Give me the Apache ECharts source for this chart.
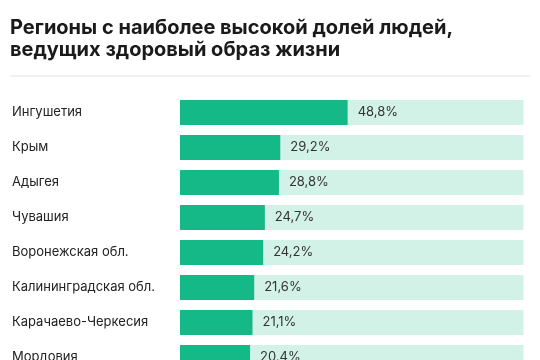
<!DOCTYPE html>
<html><head><meta charset="utf-8">
<script src="https://cdn.jsdelivr.net/npm/echarts@6/dist/echarts.min.js"></script>
<style>html,body{margin:0;padding:0;background:#fff}#c{width:540px;height:360px}</style>
</head><body><div id="c"></div>
<script>
const categories = ["Ингушетия","Крым","Адыгея","Чувашия","Воронежская обл.","Калининградская обл.","Карачаево-Черкесия","Мордовия"];
const values = [48.8,29.2,28.8,24.7,24.2,21.6,21.1,20.4];
const titleText = "Регионы с наиболее высокой долей людей,\nведущих здоровый образ жизни";
const FONT = "Inter";
const chart = echarts.init(document.getElementById('c'), null, {renderer:'canvas'});
chart.setOption({
  animation:false,
  backgroundColor:'#fff',
  title:{text:titleText,left:5,top:12,textStyle:{fontFamily:FONT,fontSize:20,fontWeight:'bold',color:'#1a1a1a',lineHeight:22}},
  graphic:[{type:'line',shape:{x1:10,y1:76,x2:530,y2:76},style:{stroke:'#e3e3e3',lineWidth:1}}],
  grid:{left:180,width:343.5,top:95,height:280,containLabel:false,outerBoundsMode:'none'},
  xAxis:{type:'value',min:0,max:100,show:false},
  yAxis:{type:'category',data:categories,inverse:true,axisLine:{show:false},axisTick:{show:false},
    axisLabel:{align:'left',margin:168,fontFamily:FONT,fontSize:13,color:'#222'}},
  series:[{type:'bar',data:values,barWidth:25,showBackground:true,
    backgroundStyle:{color:'#d3f2e7'},itemStyle:{color:'#14b987'},
    label:{show:true,position:'right',distance:10,fontFamily:FONT,fontSize:13,color:'#333',
      formatter:p=>p.value.toFixed(1).replace('.',',')+'%'}}]
});
</script></body></html>
